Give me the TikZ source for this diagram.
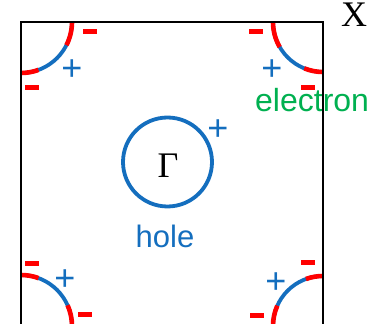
\documentclass[tikz,border=0pt]{standalone}
\usepackage{fontspec}
\setmainfont{Latin Modern Roman}
\newfontfamily\arialfont{Liberation Sans}
\newfontfamily\timesfont{Liberation Serif}
\usepackage{xcolor}
\definecolor{bandblue}{RGB}{20,110,190}
\definecolor{bandred}{RGB}{255,0,0}
\definecolor{bandgreen}{RGB}{0,176,80}

\begin{document}
\begin{tikzpicture}[
    x=1pt, y=1pt,
    zone/.style={draw=black, line width=1.8pt},
    pocket/.style={draw=bandblue, line width=3.8pt},
    redend/.style={draw=bandred, line width=4.6pt},
    negmark/.style={draw=bandred, line width=5pt},
    plusmark/.style={text=bandblue, font=\arialfont\fontsize{36}{38}\selectfont, inner sep=0pt},
    carrier/.style={font=\arialfont\fontsize{31}{33}\selectfont, inner sep=0pt},
    kpoint/.style={font=\timesfont\fontsize{36}{38}\selectfont, inner sep=0pt}
]
\useasboundingbox (0,0) rectangle (367,324);

% corner pockets
\draw[pocket] (72,302) arc[start angle=0, end angle=-90, radius=51];
\draw[pocket] (273,302) arc[start angle=180, end angle=270, radius=50];
\draw[pocket] (21,49) arc[start angle=90, end angle=0, radius=51];
\draw[pocket] (323,48) arc[start angle=90, end angle=180, radius=50];

\draw[redend] (72,302) arc[start angle=0, end angle=-27, radius=51];
\draw[redend] (21,251) arc[start angle=-90, end angle=-70, radius=51];
\draw[redend] (273,302) arc[start angle=180, end angle=210, radius=50];
\draw[redend] (323,252) arc[start angle=270, end angle=248, radius=50];
\draw[redend] (21,49) arc[start angle=90, end angle=70, radius=51];
\draw[redend] (72,-2) arc[start angle=0, end angle=24, radius=51];
\draw[redend] (323,48) arc[start angle=90, end angle=110, radius=50];
\draw[redend] (273,-2) arc[start angle=180, end angle=156, radius=50];

% hole pocket at Gamma
\node[pocket, circle, minimum size=89pt, inner sep=0pt] (gam) at (167.5,162) {};
\node[kpoint] (gamlbl) at (168,158) {Γ};
\node[kpoint, anchor=base west] (xlbl) at (341,297) {X};

% charges
\draw[negmark] (83,292) -- ++(14,0);
\draw[negmark] (25,236) -- ++(14,0);
\draw[negmark] (249,292) -- ++(14,0);
\draw[negmark] (301,236) -- ++(14,0);
\draw[negmark] (25,60) -- ++(14,0);
\draw[negmark] (78,9) -- ++(14,0);
\draw[negmark] (301,61) -- ++(14,0);
\draw[negmark] (250,8) -- ++(14,0);

\node[plusmark] (p1) at (72,254) {+};
\node[plusmark] (p2) at (272,254) {+};
\node[plusmark] (p3) at (218,194) {+};
\node[plusmark] (p4) at (65,44) {+};
\node[plusmark] (p5) at (276,41) {+};

\node[carrier, text=bandblue, anchor=base] (hole) at (165,76) {hole};
\node[carrier, text=bandgreen, anchor=base west, font=\arialfont\fontsize{32}{34}\selectfont] (elec) at (255,212) {electron};

% Brillouin zone
\draw[zone] (21,-2) rectangle (323,302);
\end{tikzpicture}
\end{document}
